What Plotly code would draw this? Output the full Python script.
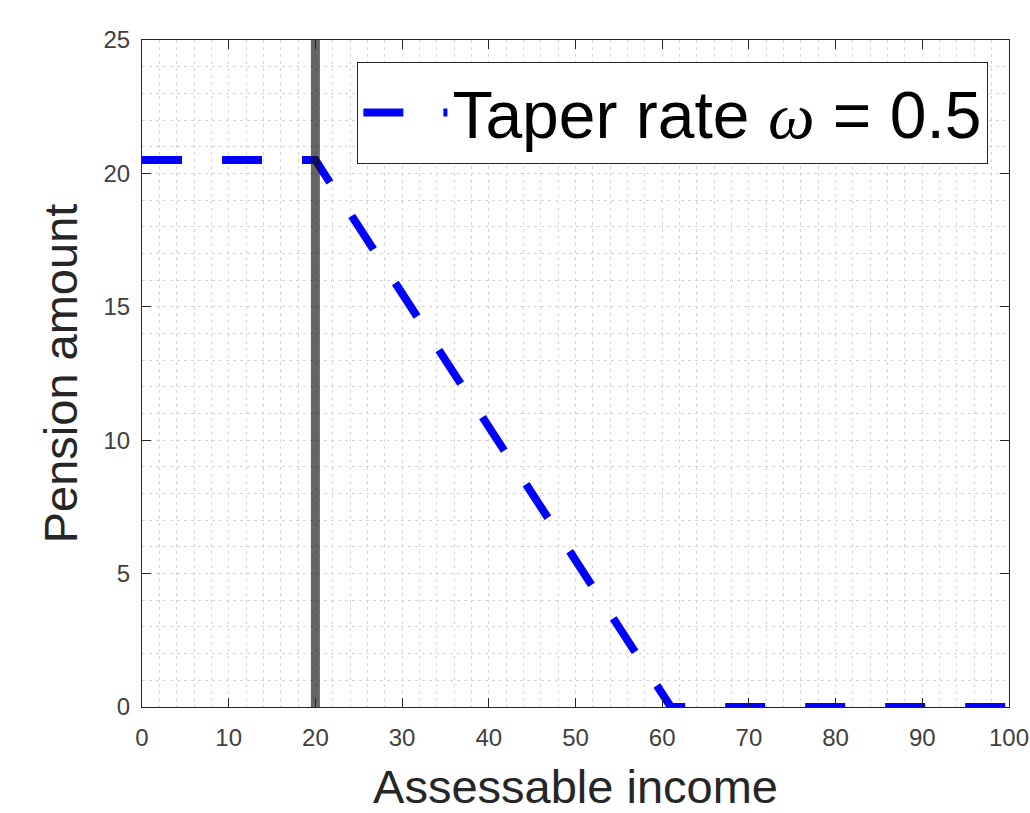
import plotly.graph_objects as go

# Pension schedule: full pension until the income threshold, then tapered to zero
income = [0, 20, 61, 100]
pension = [20.5, 20.5, 0, 0]
threshold_x = [20, 20]
threshold_y = [0, 25]

x_ticks = [0, 10, 20, 30, 40, 50, 60, 70, 80, 90, 100]
y_ticks = [0, 5, 10, 15, 20, 25]

fig = go.Figure()

fig.add_trace(go.Scatter(
    x=income, y=pension, mode="lines",
    name="Taper rate <span style=\"font-family:'Liberation Serif'\"><i>ω</i></span> = 0.5",
    line=dict(color="#0000ff", width=8, dash="40px,40px"),
))

fig.add_trace(go.Scatter(
    x=threshold_x, y=threshold_y, mode="lines", showlegend=False,
    line=dict(color="rgba(20,20,20,0.65)", width=9),
))

axis_common = dict(
    showline=True, linecolor="#262626", linewidth=1.2, mirror="ticks",
    ticks="inside", ticklen=9, tickcolor="#262626", tickwidth=1,
    tickfont=dict(family="Liberation Sans, Arial", size=24, color="#404040"),
    showgrid=True, gridcolor="#d4d4d4", gridwidth=1, griddash="3px,4px",
    zeroline=False,
    title_font=dict(family="Liberation Sans, Arial", size=47, color="#262626"),
)

fig.update_xaxes(
    range=[0, 100], tickvals=x_ticks, ticktext=[str(v) for v in x_ticks],
    title_text="Assessable income", title_standoff=25, ticklabelstandoff=9,
    minor=dict(dtick=2, showgrid=True, gridcolor="#d4d4d4", gridwidth=1,
               griddash="3px,4px", ticks=""),
    **axis_common,
)
fig.update_yaxes(
    range=[0, 25], tickvals=y_ticks, ticktext=[str(v) for v in y_ticks],
    title_text="Pension amount", title_standoff=10, ticklabelstandoff=6,
    minor=dict(dtick=1, showgrid=True, gridcolor="#d4d4d4", gridwidth=1,
               griddash="3px,4px", ticks=""),
    **axis_common,
)

fig.update_layout(
    width=1030, height=813,
    margin=dict(l=142, r=21, t=40, b=106, autoexpand=False),
    paper_bgcolor="white", plot_bgcolor="white",
    showlegend=True,
    legend=dict(
        x=0.976, y=0.967, xanchor="right", yanchor="top",
        bgcolor="white", bordercolor="#262626", borderwidth=1.2,
        font=dict(family="Liberation Sans, Arial", size=66, color="black"),
        itemwidth=84, tracegroupgap=0,
    ),
)

fig.write_html("out.html")
